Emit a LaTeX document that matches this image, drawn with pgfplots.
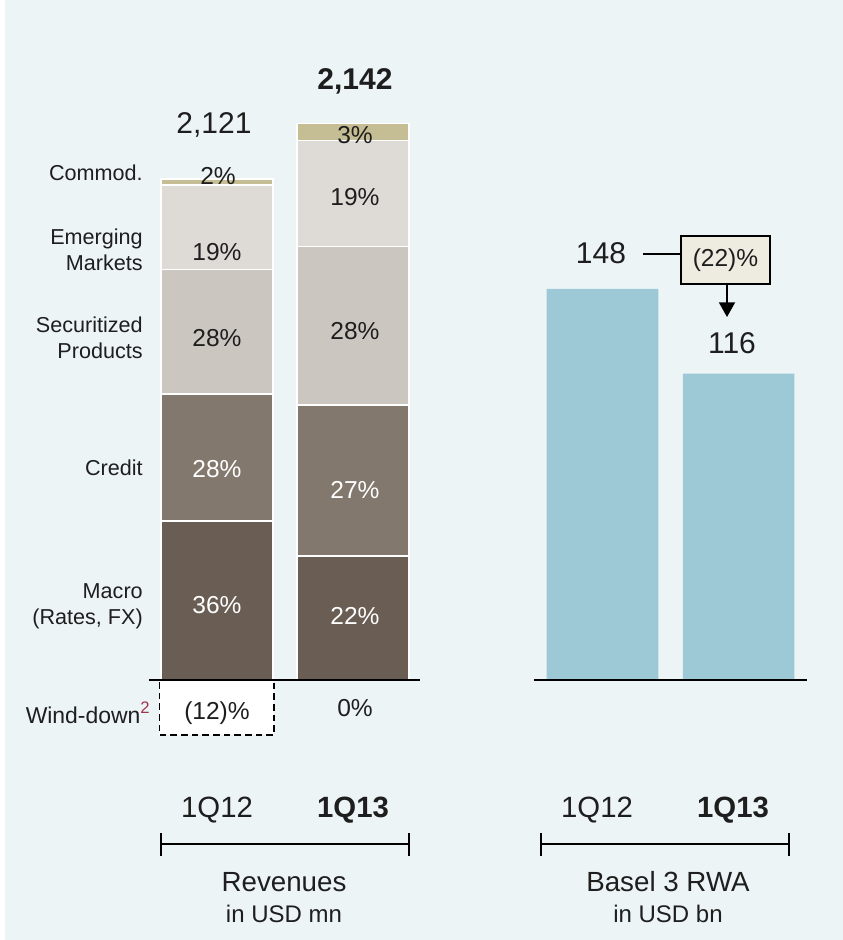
\documentclass[border=0pt]{standalone}
\usepackage{fontspec}
\setmainfont{Liberation Sans}
\usepackage{pgfplots}
\pgfplotsset{compat=1.18}
\usetikzlibrary{arrows.meta}
\definecolor{bg}{HTML}{EDF4F6}
\definecolor{macro}{HTML}{6A5D54}
\definecolor{credit}{HTML}{83786E}
\definecolor{secur}{HTML}{CCC6C1}
\definecolor{emerg}{HTML}{DEDAD6}
\definecolor{commod}{HTML}{C5BD94}
\definecolor{rwa}{HTML}{9DC8D6}
\definecolor{boxfill}{HTML}{EEEBE0}
\definecolor{txt}{HTML}{1E1E1E}
\definecolor{supred}{HTML}{A0344A}
\newcommand{\fbig}{\fontsize{22.5}{26}\selectfont}
\newcommand{\fpct}{\fontsize{18.4}{22}\selectfont}
\newcommand{\fcat}{\fontsize{16.2}{19.5}\selectfont}
\newcommand{\fq}{\fontsize{22}{26}\selectfont}
\newcommand{\ftitle}{\fontsize{20.8}{24}\selectfont}
\newcommand{\fsub}{\fontsize{18}{22}\selectfont}
\begin{document}
\begin{tikzpicture}
\begin{scope}[x=0.75pt,y=0.75pt]
\fill[white] (0,0) rectangle (843,940);
\fill[bg] (5,0) rectangle (843,940);
\end{scope}
% wind-down box (negative contribution)
\begin{axis}[at={(105pt,135pt)}, anchor=south west, scale only axis,
  width=217.5pt, height=525pt,
  xmin=-0.5643, xmax=1.5665, ymin=-307.7, ymax=2384.6,
  axis lines=none, clip=false, ybar, bar width=86pt]
\addplot[fill=white, draw=black, line width=1.1pt, dash pattern=on 5pt off 3pt] coordinates {(0,-211.5)};
\end{axis}
% revenues stacked bars
\begin{axis}[at={(105pt,135pt)}, anchor=south west, scale only axis,
  width=217.5pt, height=525pt,
  xmin=-0.5643, xmax=1.5665, ymin=-307.7, ymax=2384.6,
  axis lines=none, clip=false, ybar stacked, bar width=84pt]
\addplot[fill=macro, draw=white, line width=1.1pt] coordinates {(0,611.5) (1,477)};
\addplot[fill=credit, draw=white, line width=1.1pt] coordinates {(0,488.5) (1,580.8)};
\addplot[fill=secur, draw=white, line width=1.1pt] coordinates {(0,478.8) (1,609.6)};
\addplot[fill=emerg, draw=white, line width=1.1pt] coordinates {(0,325) (1,407.7)};
\addplot[fill=commod, draw=white, line width=1.1pt] coordinates {(0,23.1) (1,66.2)};
\end{axis}
% Basel 3 RWA
\begin{axis}[at={(390pt,135pt)}, anchor=south west, scale only axis,
  width=225pt, height=525pt,
  xmin=-0.6057, xmax=1.597, ymin=-30.28, ymax=234.67,
  axis lines=none, clip=false, ybar, bar width=83.7pt]
\addplot[fill=rwa, draw=none] coordinates {(0,148) (1,116)};
\end{axis}
\begin{scope}[x=0.75pt,y=0.75pt, every node/.style={text=txt, inner sep=0pt}]
% baselines
\draw[black, line width=1.5pt] (149,260) -- (420,260);
\draw[black, line width=1.5pt] (534,259.5) -- (807,259.5);
% totals
\node[font=\fbig] at (214,815) {2,121};
\node[font=\fbig\bfseries] at (355,859) {2,142};
% category labels
\node[font=\fcat, anchor=east] at (143,767) {Commod.};
\node[font=\fcat, anchor=east, align=right] at (143,690) {Emerging\\Markets};
\node[font=\fcat, anchor=east, align=right] at (143,602) {Securitized\\Products};
\node[font=\fcat, anchor=east] at (143,472) {Credit};
\node[font=\fcat, anchor=east, align=right] at (143,334) {Macro\\(Rates, FX)};
\node[font=\fontsize{17.2}{20}\selectfont, anchor=east] at (150,227) {Wind-down\textcolor{supred}{\raisebox{0.42em}{\fontsize{12.5}{13}\selectfont 2}}};
% percentages bar 1
\node[font=\fpct] at (218,764) {2\%};
\node[font=\fpct] at (217,688) {19\%};
\node[font=\fpct] at (217,602) {28\%};
\node[font=\fpct, text=white] at (217,471) {28\%};
\node[font=\fpct, text=white] at (217,335) {36\%};
\node[font=\fpct] at (217,227) {(12)\%};
% percentages bar 2
\node[font=\fpct] at (355,805) {3\%};
\node[font=\fpct] at (355,743) {19\%};
\node[font=\fpct] at (355,609) {28\%};
\node[font=\fpct, text=white] at (355,450) {27\%};
\node[font=\fpct, text=white] at (355,324) {22\%};
\node[font=\fpct] at (355,232) {0\%};
% period labels and brackets
\node[font=\fq] at (217,130) {1Q12};
\node[font=\fq\bfseries] at (353,130) {1Q13};
\node[font=\fq] at (597,130) {1Q12};
\node[font=\fq\bfseries] at (733,130) {1Q13};
\draw[black, line width=1.1pt] (161,96) -- (409,96) (161,84) -- (161,107) (409,84) -- (409,107);
\draw[black, line width=1.1pt] (541,96) -- (789,96) (541,84) -- (541,107) (789,84) -- (789,107);
\node[font=\ftitle] at (284,58) {Revenues};
\node[font=\fsub] at (284,26) {in USD mn};
\node[font=\ftitle] at (668,58) {Basel 3 RWA};
\node[font=\fsub] at (668,26) {in USD bn};
% RWA labels
\node[font=\fbig] at (601,687) {148};
\node[font=\fbig] at (732,597) {116};
\draw[black, line width=0.9pt] (643,686) -- (681,686);
\draw[black, line width=1.1pt, fill=boxfill] (681,656) rectangle (770,704);
\node[font=\fpct] at (725.5,680) {(22)\%};
\draw[black, line width=1.4pt, -{Triangle[width=12pt,length=11pt]}] (727,656) -- (727,623);
\end{scope}
\end{tikzpicture}
\end{document}
